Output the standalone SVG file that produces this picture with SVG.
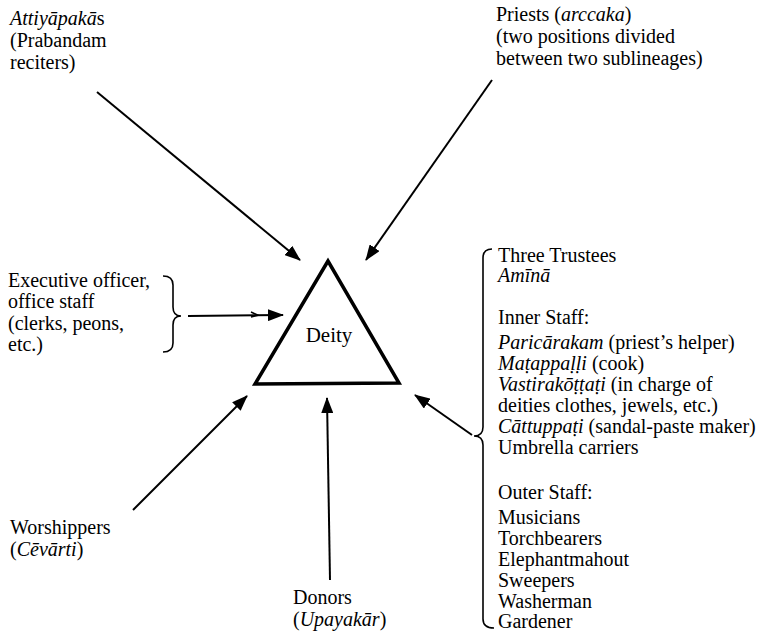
<svg xmlns="http://www.w3.org/2000/svg" width="771" height="633" viewBox="0 0 771 633">
<defs>
<marker id="ah" markerUnits="userSpaceOnUse" markerWidth="16" markerHeight="12" refX="15" refY="6" orient="auto">
<path d="M0,0 L16,6 L0,12 Z" fill="#000"/>
</marker>
<style>
text{font-family:"Liberation Serif","Times New Roman",serif;font-size:20px;fill:#000}
.i{font-style:italic}
.c{stroke:#000;stroke-width:2;fill:none}
.b{stroke:#000;stroke-width:1.6;fill:none}
</style>
</defs>
<rect width="771" height="633" fill="#fff"/>
<g id="connectors">
<line class="c" x1="97" y1="92" x2="300" y2="260" marker-end="url(#ah)"/>
<line class="c" x1="492" y1="80" x2="366" y2="260" marker-end="url(#ah)"/>
<line class="c" x1="188" y1="316" x2="283" y2="315" marker-end="url(#ah)"/>
<path class="b" d="M251,312 L258,315.3 L251,317"/>
<line class="c" x1="133" y1="510" x2="247" y2="396" marker-end="url(#ah)"/>
<line class="c" x1="330" y1="580" x2="327" y2="398" marker-end="url(#ah)"/>
<line class="c" x1="472" y1="435" x2="415" y2="395" marker-end="url(#ah)"/>
</g>
<g id="deity">
<polygon points="328,261 255,384 399,383" fill="none" stroke="#000" stroke-width="3.5" stroke-linejoin="miter"/>
<text x="329" y="342" text-anchor="middle" style="font-size:21px">Deity</text>
</g>
<g id="attiyapakas">
<text x="10" y="25"><tspan class="i">Attiyāpakā</tspan>s</text>
<text x="10" y="47">(Prabandam</text>
<text x="10" y="69">reciters)</text>
</g>
<g id="priests">
<text x="496" y="21">Priests (<tspan class="i">arccaka</tspan>)</text>
<text x="496" y="43">(two positions divided</text>
<text x="496" y="65">between two sublineages)</text>
</g>
<g id="executive">
<text x="8" y="287">Executive officer,</text>
<text x="8" y="308">office staff</text>
<text x="8" y="330">(clerks, peons,</text>
<text x="8" y="351">etc.)</text>
<path class="b" d="M163,276 Q173,276 173,285 L173,307 Q173,316 181,316 Q173,316 173,325 L173,343 Q173,352 163,352"/>
</g>
<g id="worshippers">
<text x="10" y="534">Worshippers</text>
<text x="10" y="556">(<tspan class="i">Cēvārti</tspan>)</text>
</g>
<g id="donors">
<text x="293" y="604">Donors</text>
<text x="293" y="626">(<tspan class="i">Upayakār</tspan>)</text>
</g>
<g id="staff">
<path class="b" d="M492,249 Q483,249 483,258 L483,427 Q483,436 474,436 Q483,436 483,445 L483,619 Q483,628 494,628"/>
<text x="498" y="262">Three Trustees</text>
<text x="498" y="282" class="i">Amīnā</text>
<text x="498" y="324">Inner Staff:</text>
<text x="498" y="349"><tspan class="i">Paricārakam</tspan> (priest’s helper)</text>
<text x="498" y="370"><tspan class="i">Maṭappaḷḷi</tspan> (cook)</text>
<text x="498" y="391"><tspan class="i">Vastirakōṭṭaṭi</tspan> (in charge of</text>
<text x="498" y="412">deities clothes, jewels, etc.)</text>
<text x="498" y="433"><tspan class="i">Cāttuppaṭi</tspan> (sandal-paste maker)</text>
<text x="498" y="454">Umbrella carriers</text>
<text x="498" y="499">Outer Staff:</text>
<text x="498" y="524">Musicians</text>
<text x="498" y="545">Torchbearers</text>
<text x="498" y="566">Elephantmahout</text>
<text x="498" y="587">Sweepers</text>
<text x="498" y="608">Washerman</text>
<text x="498" y="628">Gardener</text>
</g>
</svg>
